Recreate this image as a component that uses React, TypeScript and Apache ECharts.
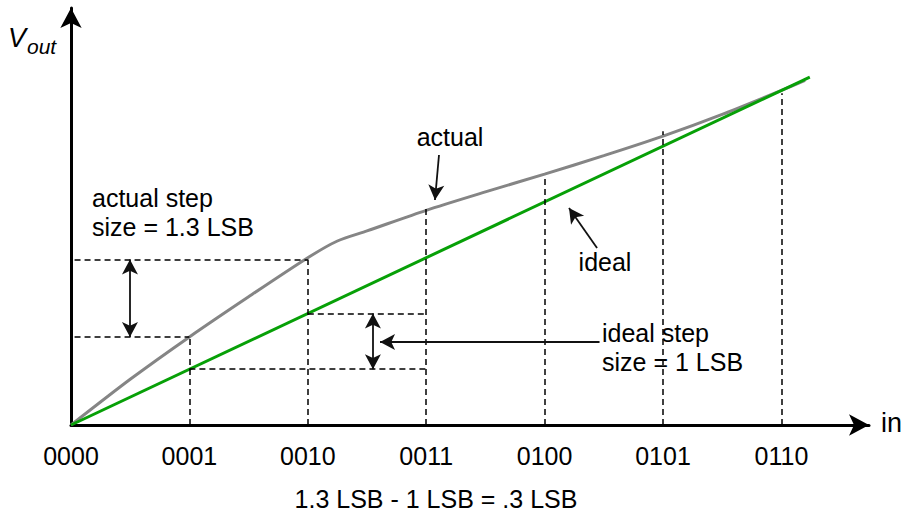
import React, { useEffect, useRef } from "react";
import * as echarts from "echarts";

// ---- data ----
const tickLabels = ["0000", "0001", "0010", "0011", "0100", "0101", "0110"];

const idealX = [0, 6.24];
const idealY = [0, 6.24];

const actualX = [0, 0.5, 1, 1.5, 2, 2.25, 2.5, 3, 3.5, 4, 4.5, 5, 5.5, 6, 6.2];
const actualY = [0, 0.82, 1.58, 2.3, 3.0, 3.3, 3.48, 3.85, 4.18, 4.5, 4.83, 5.18, 5.57, 6.0, 6.18];

// dashed guide lines: [x1, y1, x2, y2]
const guideLines = [
  [0.03, 2.97, 2, 2.97],
  [0.03, 1.58, 1, 1.58],
  [1, 0, 1, 1.58],
  [2, 0, 2, 2.97],
  [2, 2, 3, 2],
  [1, 1, 3, 1],
  [3, 0, 3, 3.89],
  [4, 0, 4, 4.48],
  [5, 0, 5, 5.27],
  [6, 0, 6, 5.95],
];

// annotation arrows: [x1, y1, x2, y2, doubleHeaded(1/0)] (tips in data units)
const arrowLines = [
  [0.498, 1.58, 0.498, 2.97, 1],
  [2.55, 1, 2.55, 2, 1],
  [4.464, 1.489, 2.61, 1.489, 0],
  [3.108, 4.842, 3.074, 4.035, 0],
  [4.443, 3.174, 4.206, 3.892, 0],
];

// ---- layout ----
const FONT = "'Liberation Sans', Arial, Helvetica, sans-serif";
const GRID_LEFT = 71;
const AXIS_X_END = 869;
const AXIS_Y = 425;
const AXIS_Y_END = 8;
const PX_X = 118.4;
const PX_Y = 55.76;
const X_MAX = (AXIS_X_END - GRID_LEFT) / PX_X;
const Y_MAX = (AXIS_Y - AXIS_Y_END) / PX_Y;

export default function App() {
  const ref = useRef<HTMLDivElement>(null);

  useEffect(() => {
    if (!ref.current) return;
    const chart = echarts.init(ref.current, null, { renderer: "svg" });

    const guideData = guideLines.map(([x1, y1, x2, y2]) => [
      { coord: [x1, y1] },
      { coord: [x2, y2] },
    ]);

    const arrowData = arrowLines.map(([x1, y1, x2, y2, both]) => [
      { coord: [x1, y1], symbol: both ? "arrow" : "none" },
      { coord: [x2, y2], symbol: "arrow" },
    ]);

    const textStyle = (text: string, x: number, y: number, align: string, size = 25, italic = false) => ({
      type: "text",
      x,
      y,
      silent: true,
      style: {
        text,
        fontSize: size,
        fontFamily: FONT,
        fontStyle: italic ? "italic" : "normal",
        fill: "#000",
        align,
        verticalAlign: "middle",
      },
    });

    const option: any = {
      animation: false,
      backgroundColor: "#fff",
      grid: {
        left: GRID_LEFT,
        right: 904 - AXIS_X_END,
        top: AXIS_Y_END,
        bottom: 514 - AXIS_Y,
        containLabel: false,
      },
      xAxis: {
        type: "value",
        min: 0,
        max: X_MAX,
        interval: 1,
        splitLine: { show: false },
        axisTick: { show: false },
        axisLine: {
          show: true,
          onZero: false,
          lineStyle: { color: "#000", width: 3 },
          symbol: ["none", "arrow"],
          symbolSize: [16, 20],
        },
        axisLabel: {
          show: true,
          showMaxLabel: false,
          margin: 31,
          verticalAlign: "middle",
          fontSize: 25,
          color: "#000",
          fontFamily: FONT,
          formatter: (v: number) => {
            const i = Math.round(v);
            return Math.abs(v - i) < 1e-6 && tickLabels[i] ? tickLabels[i] : "";
          },
        },
      },
      yAxis: {
        type: "value",
        min: 0,
        max: Y_MAX,
        splitLine: { show: false },
        axisTick: { show: false },
        axisLabel: { show: false },
        axisLine: {
          show: true,
          onZero: false,
          lineStyle: { color: "#000", width: 3 },
          symbol: ["none", "arrow"],
          symbolSize: [16, 20],
        },
      },
      series: [
        {
          type: "line",
          name: "guides",
          data: [[0, 0]],
          showSymbol: false,
          lineStyle: { opacity: 0 },
          silent: true,
          markLine: {
            silent: true,
            animation: false,
            symbol: ["none", "none"],
            label: { show: false },
            lineStyle: { color: "#000", width: 1.5, type: [6, 4] },
            emphasis: { disabled: true },
            data: guideData,
          },
        },
        {
          type: "line",
          name: "actual",
          data: actualX.map((x, i) => [x, actualY[i]]),
          smooth: 0.25,
          showSymbol: false,
          silent: true,
          lineStyle: { color: "#858585", width: 3 },
        },
        {
          type: "line",
          name: "ideal",
          data: idealX.map((x, i) => [x, idealY[i]]),
          showSymbol: false,
          silent: true,
          lineStyle: { color: "#07a007", width: 3 },
        },
        {
          type: "line",
          name: "arrows",
          data: [[0, 0]],
          showSymbol: false,
          lineStyle: { opacity: 0 },
          silent: true,
          markLine: {
            silent: true,
            animation: false,
            symbolSize: [12, 15],
            label: { show: false },
            lineStyle: { color: "#111", width: 1.8, type: "solid" },
            emphasis: { disabled: true },
            data: arrowData,
          },
        },
      ],
      graphic: [
        textStyle("V", 8, 38, "left", 27, true),
        textStyle("out", 27, 46, "left", 21, true),
        textStyle("in", 881, 423, "left", 27),
        textStyle("actual", 450, 137, "center"),
        textStyle("ideal", 605, 262, "center"),
        textStyle("actual step", 92, 198, "left"),
        textStyle("size = 1.3 LSB", 92, 227, "left"),
        textStyle("ideal step", 602, 333, "left"),
        textStyle("size = 1 LSB", 602, 362, "left"),
        textStyle("1.3 LSB - 1 LSB = .3 LSB", 436, 499, "center"),
      ],
    };

    chart.setOption(option);
    return () => chart.dispose();
  }, []);

  return (
    <div
      ref={ref}
      style={{ position: "fixed", left: 0, top: 0, width: 904, height: 514, background: "#fff" }}
    />
  );
}
